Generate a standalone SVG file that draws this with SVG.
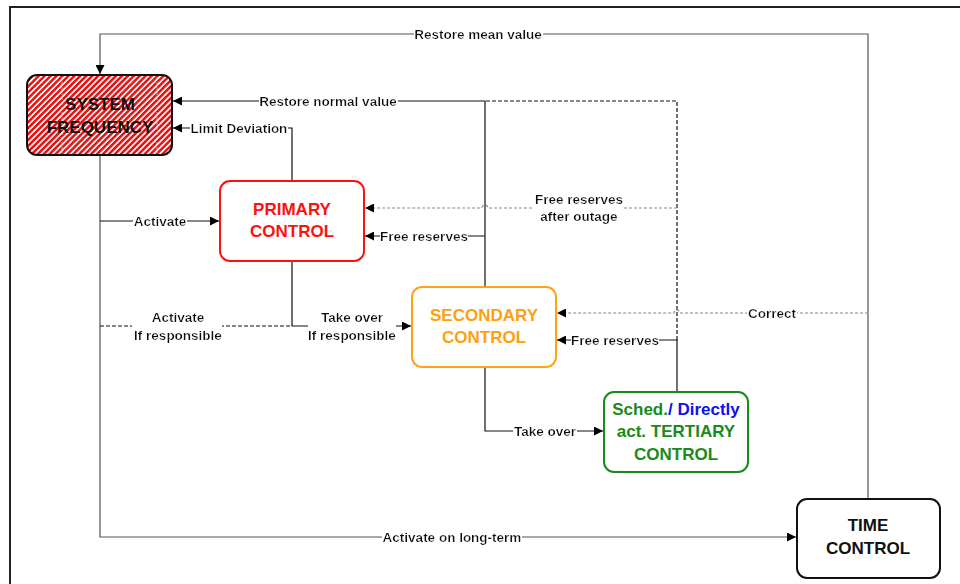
<svg xmlns="http://www.w3.org/2000/svg" width="960" height="584" viewBox="0 0 960 584">
  <style>
    .box { stroke-width: 2; fill: #fff; }
    .wire { fill: none; stroke: #111; stroke-width: 1.2; }
    .wire-soft { fill: none; stroke: #555; stroke-width: 1.2; }
    .dash { fill: none; stroke: #111; stroke-width: 1.2; stroke-dasharray: 4 2; }
    .dash-grey { fill: none; stroke: #888; stroke-width: 1.2; stroke-dasharray: 3 2; }
    .lbl { font-family: "Liberation Sans", Arial, Helvetica, sans-serif; font-size: 13.5px; font-weight: bold; fill: #111; text-anchor: middle; filter: url(#knockout); }
    .ttl { font-family: "Liberation Sans", Arial, Helvetica, sans-serif; font-size: 17px; font-weight: bold; text-anchor: middle; }
  </style>
  <defs>
    <!-- white plate behind connector labels so the wire is interrupted -->
    <filter id="knockout" x="0" y="0" width="1" height="1">
      <feFlood flood-color="#fff"/>
      <feComposite in="SourceGraphic" operator="over"/>
    </filter>
    <marker id="arrow" markerUnits="userSpaceOnUse" markerWidth="10" markerHeight="9" refX="9" refY="4.5" orient="auto">
      <path d="M0,0 L9,4.5 L0,9 z" fill="#000"/>
    </marker>
    <pattern id="hatch" width="4.2" height="4.2" patternUnits="userSpaceOnUse" patternTransform="rotate(45)">
      <rect width="4.2" height="4.2" fill="#fff"/>
      <rect width="2.5" height="4.2" fill="#ee1111"/>
    </pattern>
  </defs>

  <!-- page frame -->
  <g id="frame">
    <path d="M10,584 V7 H960" fill="none" stroke="#222" stroke-width="2"/>
  </g>

  <!-- connectors -->
  <g id="connectors">
    <!-- Restore mean value: time control back to system frequency -->
    <path class="wire-soft" d="M868,498 V34 H100 V74" marker-end="url(#arrow)"/>
    <!-- Restore normal value -->
    <path class="wire" d="M485,287 V101 H173" marker-end="url(#arrow)"/>
    <path class="dash" d="M677,340 V101 H485"/>
    <!-- tertiary feedback -->
    <path class="wire" d="M677,392 V340 H557" marker-end="url(#arrow)"/>
    <!-- Limit Deviation -->
    <path class="wire" d="M292,181 V128 H173" marker-end="url(#arrow)"/>
    <!-- Free reserves (secondary -> primary) -->
    <path class="wire" d="M485,236 H365" marker-end="url(#arrow)"/>
    <!-- Free reserves after outage -->
    <path class="dash-grey" d="M677,208 H488 A3,3 0 0 0 482,208 H365" marker-end="url(#arrow)"/>
    <!-- Correct -->
    <path class="dash-grey" d="M868,313 H680 A3,3 0 0 0 674,313 H557" marker-end="url(#arrow)"/>
    <!-- Activate / Activate on long-term -->
    <path class="wire-soft" d="M100,155 V537 H796" marker-end="url(#arrow)"/>
    <path class="wire" d="M100,221 H219" marker-end="url(#arrow)"/>
    <!-- Activate if responsible -->
    <path class="dash" d="M100,326 H292"/>
    <!-- Take over if responsible -->
    <path class="wire" d="M292,261 V326 H411" marker-end="url(#arrow)"/>
    <!-- Take over -->
    <path class="wire" d="M485,367 V431 H603" marker-end="url(#arrow)"/>

    <!-- label backgrounds for two-line labels -->
    <rect x="132" y="310" width="90" height="32" fill="#fff"/>
    <rect x="308" y="310" width="88" height="32" fill="#fff"/>
    <rect x="534" y="191" width="90" height="32" fill="#fff"/>

    <text class="lbl" x="478" y="39">Restore mean value</text>
    <text class="lbl" x="328" y="106">Restore normal value</text>
    <text class="lbl" x="239" y="133">Limit Deviation</text>
    <text class="lbl" x="160" y="226">Activate</text>
    <text class="lbl" x="424" y="241">Free reserves</text>
    <text class="lbl" x="579" y="204">Free reserves</text>
    <text class="lbl" x="579" y="221">after outage</text>
    <text class="lbl" x="178" y="322">Activate</text>
    <text class="lbl" x="178" y="340">If responsible</text>
    <text class="lbl" x="352" y="322">Take over</text>
    <text class="lbl" x="352" y="340">If responsible</text>
    <text class="lbl" x="772" y="318">Correct</text>
    <text class="lbl" x="615" y="345">Free reserves</text>
    <text class="lbl" x="545" y="436">Take over</text>
    <text class="lbl" x="452" y="542">Activate on long-term</text>
  </g>

  <!-- nodes -->
  <g id="system-frequency">
    <rect x="27" y="75" width="145" height="80" rx="10" fill="url(#hatch)" stroke="#111" stroke-width="2"/>
    <path d="M62,77 V153 M157,77 V153" stroke="#fff" stroke-opacity="0.5" stroke-width="1" stroke-dasharray="3 2"/>
    <text class="ttl" x="100" y="110" fill="#111">SYSTEM</text>
    <text class="ttl" x="100" y="133" fill="#111">FREQUENCY</text>
  </g>

  <g id="primary-control">
    <rect class="box" x="220" y="181" width="144" height="80" rx="10" stroke="#ff1010"/>
    <text class="ttl" x="292" y="215" fill="#ff1010">PRIMARY</text>
    <text class="ttl" x="292" y="237" fill="#ff1010">CONTROL</text>
  </g>

  <g id="secondary-control">
    <rect class="box" x="412" y="287" width="144" height="80" rx="10" stroke="#ffa21a"/>
    <text class="ttl" x="484" y="321" fill="#ff9f10">SECONDARY</text>
    <text class="ttl" x="484" y="343" fill="#ff9f10">CONTROL</text>
  </g>

  <g id="tertiary-control">
    <rect class="box" x="604" y="392" width="144" height="80" rx="10" stroke="#1a8a1a"/>
    <text class="ttl" x="676" y="415"><tspan fill="#1a8a1a">Sched.</tspan><tspan fill="#1010ee">/ Directly</tspan></text>
    <text class="ttl" x="676" y="437" fill="#1a8a1a">act. TERTIARY</text>
    <text class="ttl" x="676" y="460" fill="#1a8a1a">CONTROL</text>
  </g>

  <g id="time-control">
    <rect class="box" x="797" y="499" width="143" height="79" rx="10" stroke="#111"/>
    <text class="ttl" x="868" y="531" fill="#111">TIME</text>
    <text class="ttl" x="868" y="554" fill="#111">CONTROL</text>
  </g>
</svg>
